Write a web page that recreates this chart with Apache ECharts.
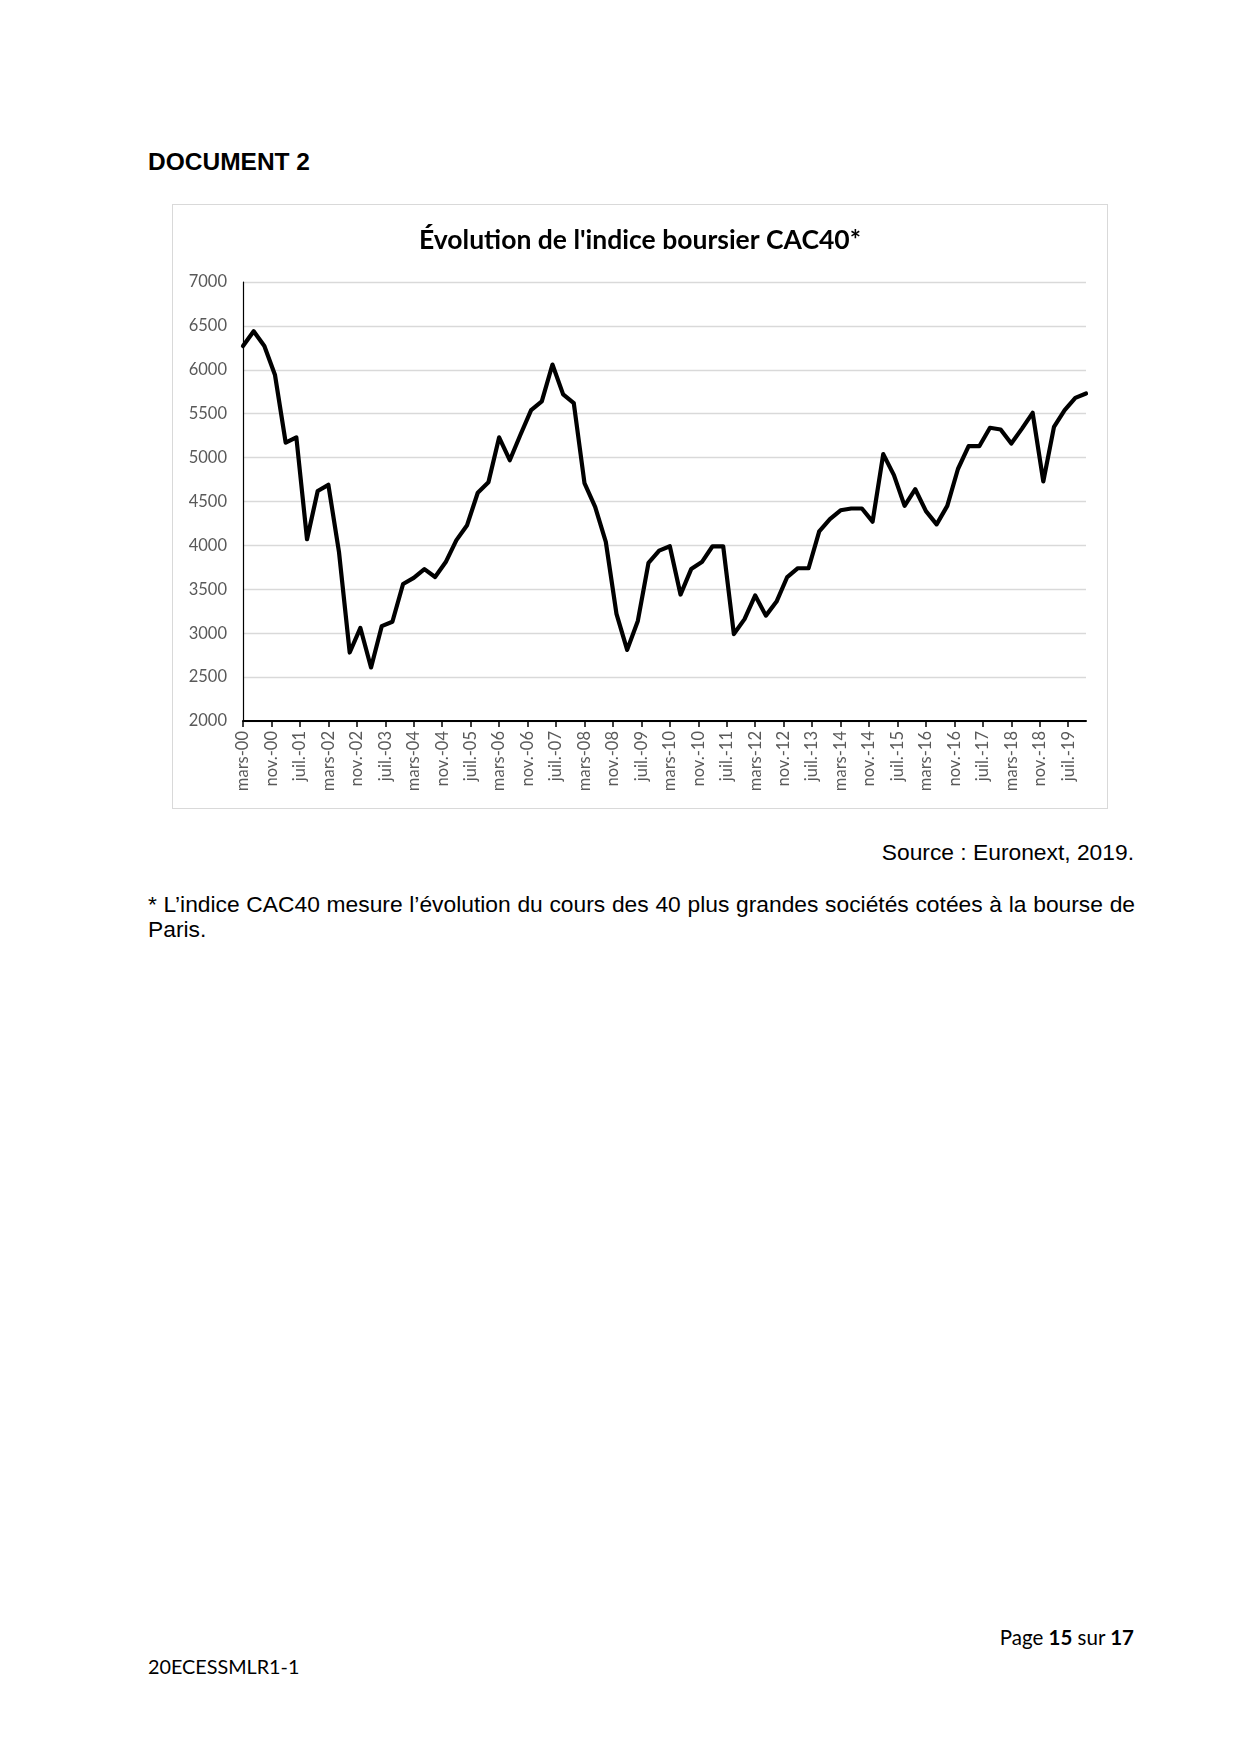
<!DOCTYPE html>
<html lang="fr">
<head>
<meta charset="utf-8">
<title>Évolution de l'indice boursier CAC40</title>
<script src="https://cdn.jsdelivr.net/npm/echarts@6/dist/echarts.min.js"></script>
<style>
  html, body { margin: 0; padding: 0; background: #fff; }
  body { width: 1240px; height: 1754px; position: relative; overflow: hidden; }
  .doc-title {
    position: absolute; left: 148px; top: 148px;
    font: bold 24.5px "Liberation Sans", Arial, sans-serif; color: #000;
  }
  #chart {
    position: absolute; left: 172px; top: 204px;
    width: 934px; height: 603px;
    border: 1px solid #d9d9d9;
  }
  .source {
    position: absolute; right: 106px; top: 839px;
    font: 22.8px "Liberation Sans", Arial, sans-serif; color: #000;
  }
  .note {
    position: absolute; left: 148px; top: 892px; width: 987px;
    font: 22.8px/25px "Liberation Sans", Arial, sans-serif; color: #000;
    text-align: justify; text-align-last: left;
  }
  .page {
    position: absolute; right: 106px; top: 1625px;
    font: 20.5px Lato, "Open Sans", sans-serif; color: #000;
  }
  .code {
    position: absolute; left: 148px; top: 1654px;
    font: 19.8px Lato, "Open Sans", sans-serif; color: #000;
  }
</style>
</head>
<body>
<div class="doc-title">DOCUMENT 2</div>
<div id="chart"></div>
<div class="source">Source : Euronext, 2019.</div>
<div class="note">* L’indice CAC40 mesure l’évolution du cours des 40 plus grandes sociétés cotées à la bourse de Paris.</div>
<div class="page">Page <b>15</b> sur <b>17</b></div>
<div class="code">20ECESSMLR1-1</div>

<script>
(() => {
  "use strict";

  // quarterly closes, first point = mars-00, one point every 3 months
  const cac40 = [
    6270, 6440, 6270, 5940, 5170, 5230, 4070, 4620, 4690, 3920,
    2780, 3060, 2610, 3080, 3130, 3560, 3630, 3730, 3640, 3810,
    4060, 4230, 4600, 4720, 5230, 4970, 5260, 5540, 5640, 6060,
    5720, 5620, 4710, 4440, 4040, 3220, 2810, 3140, 3800, 3940,
    3990, 3440, 3730, 3810, 3990, 3990, 2990, 3160, 3430, 3200,
    3360, 3640, 3740, 3740, 4160, 4300, 4400, 4420, 4420, 4270,
    5040, 4800, 4450, 4640, 4390, 4240, 4450, 4870, 5130, 5130,
    5340, 5320, 5160, 5330, 5510, 4730, 5350, 5540, 5680, 5730
  ];
  const monthsPerPoint = 3;

  // axis labels, one every 8 months from mars-00
  const tickLabels = [
    "mars-00", "nov.-00", "juil.-01", "mars-02", "nov.-02", "juil.-03",
    "mars-04", "nov.-04", "juil.-05", "mars-06", "nov.-06", "juil.-07",
    "mars-08", "nov.-08", "juil.-09", "mars-10", "nov.-10", "juil.-11",
    "mars-12", "nov.-12", "juil.-13", "mars-14", "nov.-14", "juil.-15",
    "mars-16", "nov.-16", "juil.-17", "mars-18", "nov.-18", "juil.-19"
  ];
  const monthsPerTick = 8;

  const tickValues = tickLabels.map((_, i) => i * monthsPerTick);
  const lastMonth = (cac40.length - 1) * monthsPerPoint;
  const points = cac40.map((v, i) => [i * monthsPerPoint, v]);

  const chart = echarts.init(document.getElementById("chart"), null, { renderer: "canvas" });

  chart.setOption({
    animation: false,
    title: {
      text: "Évolution de l'indice boursier CAC40*",
      left: "center",
      top: 17,
      textStyle: {
        fontFamily: "Lato, 'Open Sans', sans-serif",
        fontSize: 26.5,
        fontWeight: "bold",
        color: "#000"
      }
    },
    grid: { left: 70, right: 21, top: 77, bottom: 87 },
    xAxis: {
      type: "value",
      min: 0,
      max: lastMonth,
      axisLine: { show: true, onZero: false, lineStyle: { color: "#000", width: 2 } },
      axisTick: {
        show: true,
        length: 6,
        customValues: tickValues,
        lineStyle: { color: "#000", width: 1.5 }
      },
      axisLabel: {
        rotate: 90,
        margin: 10,
        customValues: tickValues,
        color: "#595959",
        fontFamily: "Lato, 'Open Sans', sans-serif",
        fontSize: 16.5,
        formatter(value) {
          return tickLabels[Math.round(value / monthsPerTick)] || "";
        }
      },
      splitLine: { show: false }
    },
    yAxis: {
      type: "value",
      min: 2000,
      max: 7000,
      interval: 500,
      axisLine: { show: true, lineStyle: { color: "#000", width: 1.2 } },
      axisTick: { show: false },
      axisLabel: {
        margin: 16,
        color: "#595959",
        fontFamily: "Lato, 'Open Sans', sans-serif",
        fontSize: 16.5,
        formatter: (value) => String(value)
      },
      splitLine: { lineStyle: { color: "#d9d9d9", width: 1.3 } }
    },
    series: [
      {
        type: "line",
        data: points,
        showSymbol: false,
        lineStyle: { color: "#000", width: 4.2, join: "round", cap: "round" },
        z: 3
      }
    ]
  });
})();
</script>
</body>
</html>
